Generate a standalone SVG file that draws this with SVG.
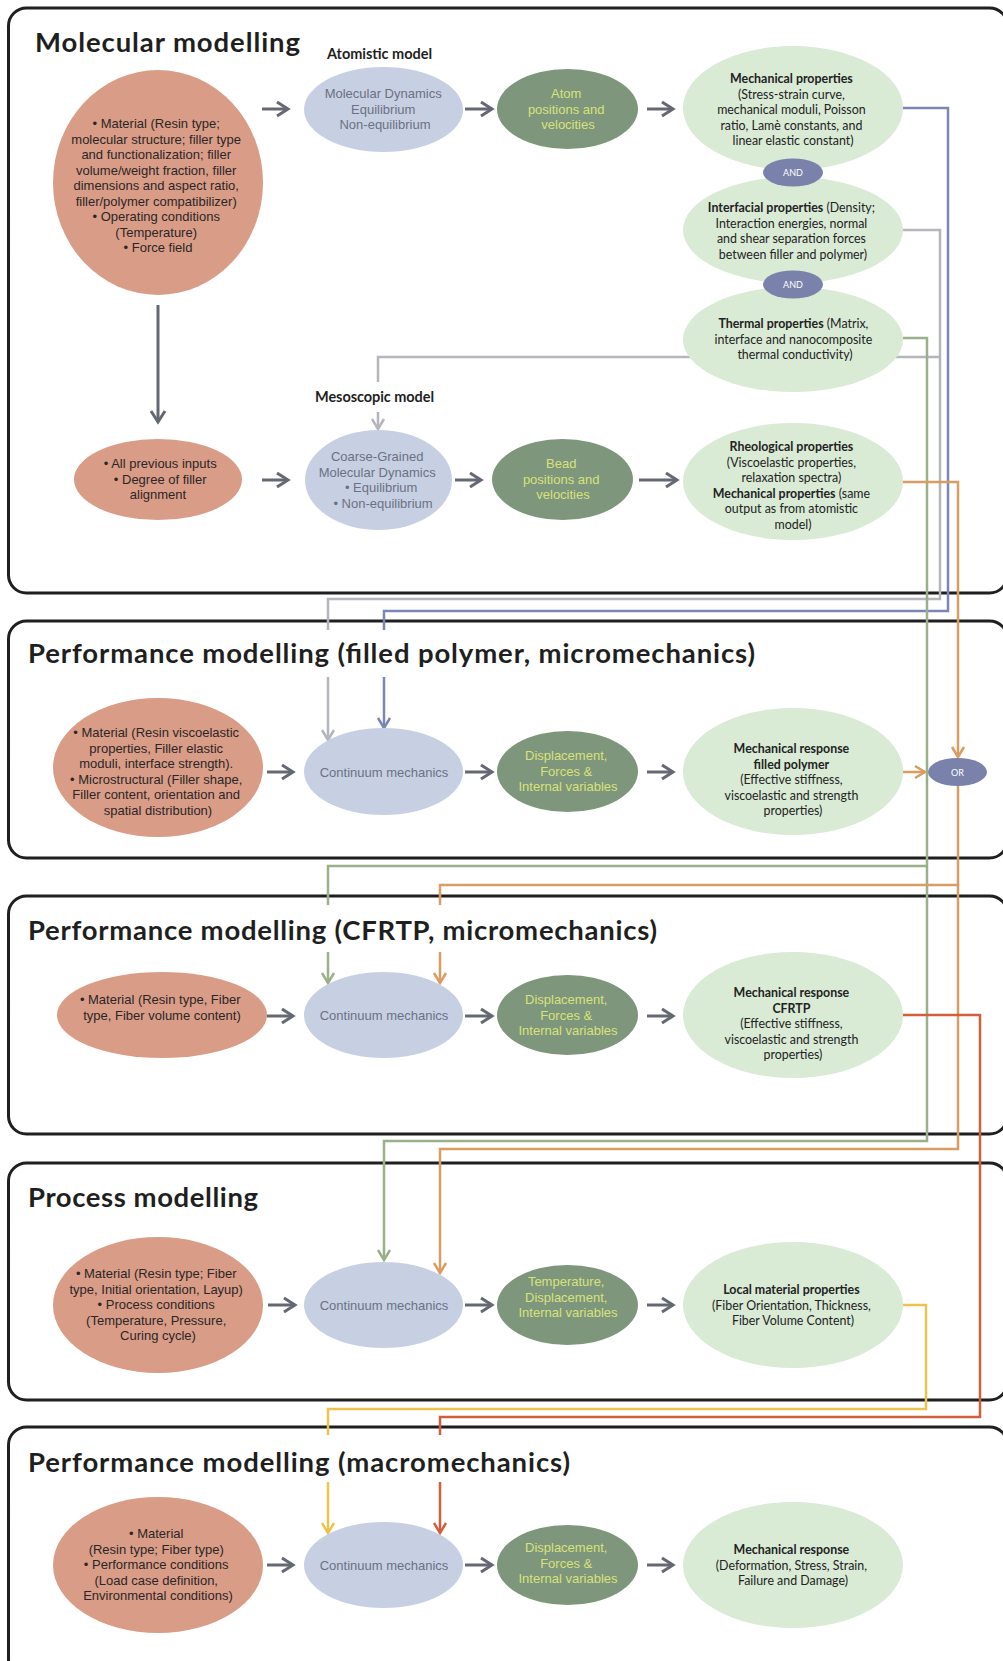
<svg xmlns="http://www.w3.org/2000/svg" width="1003" height="1661" viewBox="0 0 1003 1661">
  <style>
    .frame { fill: none; stroke: #1f1f1f; stroke-width: 3; }
    .title { font-family: Lato, "Liberation Sans", sans-serif; font-weight: 700; font-size: 27.5px; fill: #1f1f1f; }
    .sub { font-family: Lato, "Liberation Sans", sans-serif; font-weight: 700; font-size: 14.5px; fill: #1f1f1f; }
    .bg { fill: #ffffff; }
    .inp ellipse { fill: #d99c86; }
    .inp text { font-family: "Liberation Sans", Arial, sans-serif; font-size: 13px; fill: #2b2626; text-anchor: middle; }
    .sim ellipse { fill: #c7cfe2; }
    .sim text { font-family: "Liberation Sans", Arial, sans-serif; font-size: 13px; fill: #6b7184; text-anchor: middle; }
    .var ellipse { fill: #7e967b; }
    .var text { font-family: "Liberation Sans", Arial, sans-serif; font-size: 13px; fill: #d8e27c; text-anchor: middle; }
    .out ellipse { fill: #d9ead5; }
    .out text { font-family: Lato, "Liberation Sans", sans-serif; font-size: 12.4px; fill: #222222; text-anchor: middle; }
    .b { font-weight: 700; }
    .gate ellipse { fill: #7a82ab; }
    .gate text { font-family: Lato, "Liberation Sans", sans-serif; font-size: 9px; fill: #ffffff; text-anchor: middle; }
    .flow { fill: none; stroke: #646873; stroke-width: 3; marker-end: url(#ah); }
    .c { fill: none; stroke-width: 2.5; }
    .blue { stroke: #7b86b4; }
    .grey { stroke: #b4b6bb; }
    .green { stroke: #9bb088; }
    .orange { stroke: #d99c62; }
    .red { stroke: #d0603c; }
    .yellow { stroke: #ebc34d; }
  </style>
  <defs>
    <marker id="ah" viewBox="-14 -9 16 18" refX="0" refY="0" markerWidth="16" markerHeight="18" markerUnits="userSpaceOnUse" orient="auto" overflow="visible">
      <path d="M-11,-7 L0,0 L-11,7" fill="none" stroke="#646873" stroke-width="3"/>
    </marker>
    <marker id="ah-blue" viewBox="-13 -8 15 16" refX="0" refY="0" markerWidth="15" markerHeight="16" markerUnits="userSpaceOnUse" orient="auto" overflow="visible">
      <path d="M-10,-6 L0,0 L-10,6" fill="none" stroke="#7b86b4" stroke-width="2.5"/>
    </marker>
    <marker id="ah-grey" viewBox="-13 -8 15 16" refX="0" refY="0" markerWidth="15" markerHeight="16" markerUnits="userSpaceOnUse" orient="auto" overflow="visible">
      <path d="M-10,-6 L0,0 L-10,6" fill="none" stroke="#b4b6bb" stroke-width="2.5"/>
    </marker>
    <marker id="ah-green" viewBox="-13 -8 15 16" refX="0" refY="0" markerWidth="15" markerHeight="16" markerUnits="userSpaceOnUse" orient="auto" overflow="visible">
      <path d="M-10,-6 L0,0 L-10,6" fill="none" stroke="#9bb088" stroke-width="2.5"/>
    </marker>
    <marker id="ah-orange" viewBox="-13 -8 15 16" refX="0" refY="0" markerWidth="15" markerHeight="16" markerUnits="userSpaceOnUse" orient="auto" overflow="visible">
      <path d="M-10,-6 L0,0 L-10,6" fill="none" stroke="#d99c62" stroke-width="2.5"/>
    </marker>
    <marker id="ah-red" viewBox="-13 -8 15 16" refX="0" refY="0" markerWidth="15" markerHeight="16" markerUnits="userSpaceOnUse" orient="auto" overflow="visible">
      <path d="M-10,-6 L0,0 L-10,6" fill="none" stroke="#d0603c" stroke-width="2.5"/>
    </marker>
    <marker id="ah-yellow" viewBox="-13 -8 15 16" refX="0" refY="0" markerWidth="15" markerHeight="16" markerUnits="userSpaceOnUse" orient="auto" overflow="visible">
      <path d="M-10,-6 L0,0 L-10,6" fill="none" stroke="#ebc34d" stroke-width="2.5"/>
    </marker>
  </defs>

  <rect width="1003" height="1661" fill="#ffffff"/>

  <!-- Section frames -->
  <g id="frames">
    <rect class="frame" x="8.5" y="8" width="999" height="585" rx="18"/>
    <rect class="frame" x="8.5" y="621" width="999" height="237" rx="18"/>
    <rect class="frame" x="8.5" y="896" width="999" height="238" rx="18"/>
    <rect class="frame" x="8.5" y="1163" width="999" height="237" rx="18"/>
    <rect class="frame" x="8.5" y="1427" width="999" height="250" rx="18"/>
  </g>

  <!-- Links between the modelling scales -->
  <g id="connectors">
    <path class="c blue" d="M903,108 H948 V611 H384 V728" marker-end="url(#ah-blue)"/>
    <path class="c grey" d="M903,230 H940 V599 H328 V740" marker-end="url(#ah-grey)"/>
    <path class="c grey" d="M940,357 H378 V429" marker-end="url(#ah-grey)"/>
    <path class="c green" d="M903,338 H927 V1141 H384 V1260" marker-end="url(#ah-green)"/>
    <path class="c green" d="M927,866 H328 V983" marker-end="url(#ah-green)"/>
    <path class="c orange" d="M903,482 H958 V757" marker-end="url(#ah-orange)"/>
    <path class="c orange" d="M903,772 H925" marker-end="url(#ah-orange)"/>
    <path class="c orange" d="M958,786 V1149 H440 V1273" marker-end="url(#ah-orange)"/>
    <path class="c orange" d="M958,885 H440 V983" marker-end="url(#ah-orange)"/>
    <path class="c red" d="M903,1015 H980 V1417 H440 V1533" marker-end="url(#ah-red)"/>
    <path class="c yellow" d="M903,1305 H926 V1409 H328 V1533" marker-end="url(#ah-yellow)"/>

    <!-- flow arrows inside each section -->
    <path class="flow" d="M262,109 H288"/>
    <path class="flow" d="M465,109 H492"/>
    <path class="flow" d="M647,109 H673"/>
    <path class="flow" d="M158,305 V422"/>
    <path class="flow" d="M262,480 H288"/>
    <path class="flow" d="M455,480 H481"/>
    <path class="flow" d="M639,480 H677"/>
    <path class="flow" d="M267,772 H293"/>
    <path class="flow" d="M465,772 H492"/>
    <path class="flow" d="M647,772 H673"/>
    <path class="flow" d="M267,1016 H293"/>
    <path class="flow" d="M465,1016 H492"/>
    <path class="flow" d="M647,1016 H673"/>
    <path class="flow" d="M268,1305 H295"/>
    <path class="flow" d="M465,1305 H492"/>
    <path class="flow" d="M647,1305 H673"/>
    <path class="flow" d="M267,1565 H293"/>
    <path class="flow" d="M465,1565 H492"/>
    <path class="flow" d="M647,1565 H673"/>
  </g>

  <!-- Section headings -->
  <g id="headings">
    <text class="title" x="35" y="52" textLength="265">Molecular modelling</text>
    <rect class="bg" x="24" y="630" width="735" height="47"/>
    <text class="title" x="28" y="663" textLength="727">Performance modelling (filled polymer, micromechanics)</text>
    <rect class="bg" x="24" y="905" width="637" height="47"/>
    <text class="title" x="28" y="940" textLength="629">Performance modelling (CFRTP, micromechanics)</text>
    <text class="title" x="28" y="1207" textLength="230">Process modelling</text>
    <rect class="bg" x="24" y="1435" width="550" height="47"/>
    <text class="title" x="28" y="1472" textLength="542">Performance modelling (macromechanics)</text>
    <text class="sub" x="327" y="59" textLength="105">Atomistic model</text>
    <rect class="bg" x="312" y="382" width="125" height="30"/>
    <text class="sub" x="315" y="402" textLength="119">Mesoscopic model</text>
  </g>

  <!-- Molecular modelling: atomistic row -->
  <g id="mm-inputs" class="inp">
    <ellipse cx="158" cy="182.5" rx="105" ry="112.5"/>
    <text>
      <tspan x="158" y="128">• Material (Resin type;</tspan>
      <tspan x="158" y="143.5">molecular structure; filler type</tspan>
      <tspan x="158" y="159">and functionalization; filler</tspan>
      <tspan x="158" y="174.5">volume/weight fraction, filler</tspan>
      <tspan x="158" y="190">dimensions and aspect ratio,</tspan>
      <tspan x="158" y="205.5">filler/polymer compatibilizer)</tspan>
      <tspan x="158" y="221">• Operating conditions</tspan>
      <tspan x="158" y="236.5">(Temperature)</tspan>
      <tspan x="158" y="252">• Force field</tspan>
    </text>
  </g>
  <g id="mm-md" class="sim">
    <ellipse cx="383.5" cy="109.5" rx="79.5" ry="42.5"/>
    <text>
      <tspan x="385" y="98">Molecular Dynamics</tspan>
      <tspan x="385" y="113.5">Equilibrium</tspan>
      <tspan x="385" y="129">Non-equilibrium</tspan>
    </text>
  </g>
  <g id="mm-atoms" class="var">
    <ellipse cx="567.5" cy="109" rx="70.5" ry="40"/>
    <text>
      <tspan x="568" y="98">Atom</tspan>
      <tspan x="568" y="113.5">positions and</tspan>
      <tspan x="568" y="129">velocities</tspan>
    </text>
  </g>
  <g id="mm-thermal" class="out">
    <ellipse cx="793" cy="339.5" rx="110" ry="52.5"/>
    <text>
      <tspan x="795" y="328"><tspan class="b">Thermal properties</tspan> (Matrix,</tspan>
      <tspan x="795" y="343.5">interface and nanocomposite</tspan>
      <tspan x="795" y="359">thermal conductivity)</tspan>
    </text>
  </g>
  <g id="mm-interfacial" class="out">
    <ellipse cx="793" cy="230" rx="110" ry="53"/>
    <text>
      <tspan x="793" y="212"><tspan class="b">Interfacial properties</tspan> (Density;</tspan>
      <tspan x="793" y="227.5">Interaction energies, normal</tspan>
      <tspan x="793" y="243">and shear separation forces</tspan>
      <tspan x="793" y="258.5">between filler and polymer)</tspan>
    </text>
  </g>
  <g id="mm-mechanical" class="out">
    <ellipse cx="793" cy="108" rx="110" ry="62"/>
    <text>
      <tspan x="793" y="83" class="b">Mechanical properties</tspan>
      <tspan x="793" y="98.5">(Stress-strain curve,</tspan>
      <tspan x="793" y="114">mechanical moduli, Poisson</tspan>
      <tspan x="793" y="129.5">ratio, Lamè constants, and</tspan>
      <tspan x="793" y="145">linear elastic constant)</tspan>
    </text>
  </g>
  <g id="and-1" class="gate">
    <ellipse cx="793" cy="172.5" rx="30" ry="14"/>
    <text x="793" y="176">AND</text>
  </g>
  <g id="and-2" class="gate">
    <ellipse cx="793" cy="284.5" rx="30" ry="14"/>
    <text x="793" y="288">AND</text>
  </g>

  <!-- Molecular modelling: mesoscopic row -->
  <g id="ms-inputs" class="inp">
    <ellipse cx="158" cy="479.5" rx="84" ry="40.5"/>
    <text>
      <tspan x="162" y="468">• All previous inputs</tspan>
      <tspan x="162" y="483.5">• Degree of filler</tspan>
      <tspan x="158" y="499">alignment</tspan>
    </text>
  </g>
  <g id="ms-cgmd" class="sim">
    <ellipse cx="378.5" cy="480" rx="73.5" ry="50"/>
    <text>
      <tspan x="379" y="461">Coarse-Grained</tspan>
      <tspan x="379" y="476.5">Molecular Dynamics</tspan>
      <tspan x="383" y="492">• Equilibrium</tspan>
      <tspan x="383" y="507.5">• Non-equilibrium</tspan>
    </text>
  </g>
  <g id="ms-beads" class="var">
    <ellipse cx="562.5" cy="479.5" rx="70.5" ry="40.5"/>
    <text>
      <tspan x="563" y="468">Bead</tspan>
      <tspan x="563" y="483.5">positions and</tspan>
      <tspan x="563" y="499">velocities</tspan>
    </text>
  </g>
  <g id="ms-rheology" class="out">
    <ellipse cx="793" cy="481.5" rx="110" ry="58.5"/>
    <text>
      <tspan x="793" y="451" class="b">Rheological properties</tspan>
      <tspan x="793" y="466.5">(Viscoelastic properties,</tspan>
      <tspan x="793" y="482">relaxation spectra)</tspan>
      <tspan x="793" y="497.5"><tspan class="b">Mechanical properties</tspan> (same</tspan>
      <tspan x="793" y="513">output as from atomistic</tspan>
      <tspan x="793" y="528.5">model)</tspan>
    </text>
  </g>

  <!-- Performance modelling: filled polymer -->
  <g id="fp-inputs" class="inp">
    <ellipse cx="158" cy="767.5" rx="105" ry="69.5"/>
    <text>
      <tspan x="158" y="737">• Material (Resin viscoelastic</tspan>
      <tspan x="158" y="752.5">properties, Filler elastic</tspan>
      <tspan x="158" y="768">moduli, interface strength).</tspan>
      <tspan x="158" y="783.5">• Microstructural (Filler shape,</tspan>
      <tspan x="158" y="799">Filler content, orientation and</tspan>
      <tspan x="158" y="814.5">spatial distribution)</tspan>
    </text>
  </g>
  <g id="fp-continuum" class="sim">
    <ellipse cx="383.5" cy="771.5" rx="79.5" ry="43.5"/>
    <text x="384" y="777">Continuum mechanics</text>
  </g>
  <g id="fp-fields" class="var">
    <ellipse cx="567.5" cy="771.5" rx="70.5" ry="40.5"/>
    <text>
      <tspan x="568" y="760">Displacement,</tspan>
      <tspan x="568" y="775.5">Forces &amp;</tspan>
      <tspan x="568" y="791">Internal variables</tspan>
    </text>
  </g>
  <g id="fp-response" class="out">
    <ellipse cx="793" cy="771.5" rx="110" ry="63.5"/>
    <text>
      <tspan x="793" y="753" class="b">Mechanical response</tspan>
      <tspan x="793" y="768.5" class="b">filled polymer</tspan>
      <tspan x="793" y="784">(Effective stiffness,</tspan>
      <tspan x="793" y="799.5">viscoelastic and strength</tspan>
      <tspan x="793" y="815">properties)</tspan>
    </text>
  </g>
  <g id="or-gate" class="gate">
    <ellipse cx="957.5" cy="772" rx="29.5" ry="14"/>
    <text x="957.5" y="775.5">OR</text>
  </g>

  <!-- Performance modelling: CFRTP -->
  <g id="cf-inputs" class="inp">
    <ellipse cx="162" cy="1015" rx="105" ry="43"/>
    <text>
      <tspan x="162" y="1004">• Material (Resin type, Fiber</tspan>
      <tspan x="162" y="1019.5">type, Fiber volume content)</tspan>
    </text>
  </g>
  <g id="cf-continuum" class="sim">
    <ellipse cx="383.5" cy="1015" rx="79.5" ry="43"/>
    <text x="384" y="1020">Continuum mechanics</text>
  </g>
  <g id="cf-fields" class="var">
    <ellipse cx="567.5" cy="1015" rx="70.5" ry="40"/>
    <text>
      <tspan x="568" y="1004">Displacement,</tspan>
      <tspan x="568" y="1019.5">Forces &amp;</tspan>
      <tspan x="568" y="1035">Internal variables</tspan>
    </text>
  </g>
  <g id="cf-response" class="out">
    <ellipse cx="793" cy="1015" rx="110" ry="63"/>
    <text>
      <tspan x="793" y="997" class="b">Mechanical response</tspan>
      <tspan x="793" y="1012.5" class="b">CFRTP</tspan>
      <tspan x="793" y="1028">(Effective stiffness,</tspan>
      <tspan x="793" y="1043.5">viscoelastic and strength</tspan>
      <tspan x="793" y="1059">properties)</tspan>
    </text>
  </g>

  <!-- Process modelling -->
  <g id="pr-inputs" class="inp">
    <ellipse cx="158" cy="1305" rx="105" ry="68"/>
    <text>
      <tspan x="158" y="1278">• Material (Resin type; Fiber</tspan>
      <tspan x="158" y="1293.5">type, Initial orientation, Layup)</tspan>
      <tspan x="158" y="1309">• Process conditions</tspan>
      <tspan x="158" y="1324.5">(Temperature, Pressure,</tspan>
      <tspan x="158" y="1340">Curing cycle)</tspan>
    </text>
  </g>
  <g id="pr-continuum" class="sim">
    <ellipse cx="383.5" cy="1305" rx="79.5" ry="43"/>
    <text x="384" y="1309.5">Continuum mechanics</text>
  </g>
  <g id="pr-fields" class="var">
    <ellipse cx="567.5" cy="1305" rx="70.5" ry="40"/>
    <text>
      <tspan x="568" y="1286">Temperature,</tspan>
      <tspan x="568" y="1301.5">Displacement,</tspan>
      <tspan x="568" y="1317">Internal variables</tspan>
    </text>
  </g>
  <g id="pr-local" class="out">
    <ellipse cx="793" cy="1305" rx="110" ry="63"/>
    <text>
      <tspan x="793" y="1294" class="b">Local material properties</tspan>
      <tspan x="793" y="1309.5">(Fiber Orientation, Thickness,</tspan>
      <tspan x="793" y="1325">Fiber Volume Content)</tspan>
    </text>
  </g>

  <!-- Performance modelling: macromechanics -->
  <g id="ma-inputs" class="inp">
    <ellipse cx="158" cy="1565" rx="105" ry="68"/>
    <text>
      <tspan x="158" y="1538">• Material</tspan>
      <tspan x="158" y="1553.5">(Resin type; Fiber type)</tspan>
      <tspan x="158" y="1569">• Performance conditions</tspan>
      <tspan x="158" y="1584.5">(Load case definition,</tspan>
      <tspan x="158" y="1600">Environmental conditions)</tspan>
    </text>
  </g>
  <g id="ma-continuum" class="sim">
    <ellipse cx="383.5" cy="1565" rx="79.5" ry="43"/>
    <text x="384" y="1569.5">Continuum mechanics</text>
  </g>
  <g id="ma-fields" class="var">
    <ellipse cx="567.5" cy="1565" rx="70.5" ry="40"/>
    <text>
      <tspan x="568" y="1552">Displacement,</tspan>
      <tspan x="568" y="1567.5">Forces &amp;</tspan>
      <tspan x="568" y="1583">Internal variables</tspan>
    </text>
  </g>
  <g id="ma-response" class="out">
    <ellipse cx="793" cy="1565" rx="110" ry="63"/>
    <text>
      <tspan x="793" y="1554" class="b">Mechanical response</tspan>
      <tspan x="793" y="1569.5">(Deformation, Stress, Strain,</tspan>
      <tspan x="793" y="1585">Failure and Damage)</tspan>
    </text>
  </g>
</svg>
